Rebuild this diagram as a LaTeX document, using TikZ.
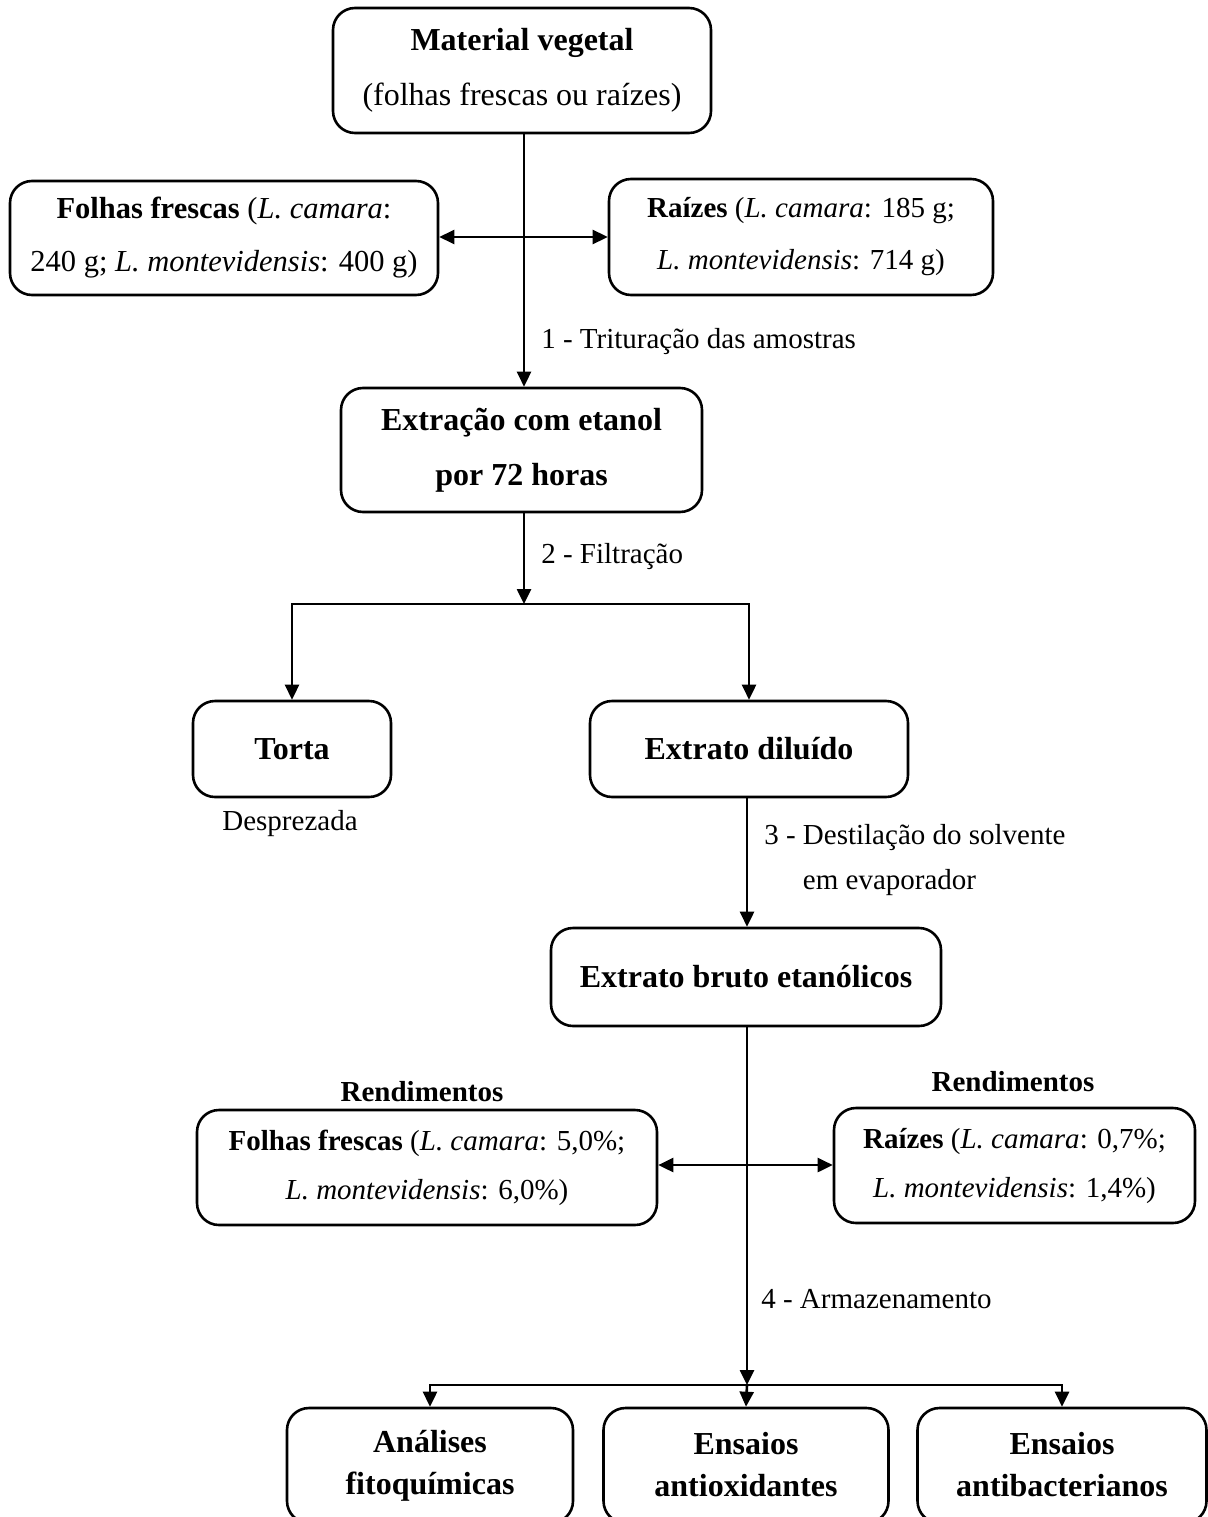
\documentclass[tikz,border=0pt]{standalone}
\usepackage{fontspec}
\setmainfont{Liberation Serif}
\usetikzlibrary{arrows.meta}
\begin{document}
\begin{tikzpicture}[x=1pt,y=-1pt,
  line width=2.6pt,
  box/.style={draw, rounded corners=22pt, inner sep=0pt, align=center},
  big/.style={font=\fontsize{32}{55}\selectfont},
  small/.style={font=\fontsize{29}{52}\selectfont},
  lbl/.style={font=\fontsize{29}{45}\selectfont, inner sep=0pt, align=left},
  arr/.style={-{Triangle[length=15pt,width=14pt]}},
  darr/.style={{Triangle[length=15pt,width=14pt]}-{Triangle[length=15pt,width=14pt]}}]
\useasboundingbox (0,0) rectangle (1207,1517);
% boxes
\node[box,big,minimum width=378pt,minimum height=125pt] (mat) at (522,70.5)
  {\textbf{Material vegetal}\\(folhas frescas ou raízes)};
\node[box,font=\fontsize{30.5}{53}\selectfont,minimum width=428pt,minimum height=114pt] (folhas) at (224,238)
  {\textbf{Folhas frescas} (\textit{L. camara}:\\240 g; \textit{L. montevidensis}: 400 g)};
\node[box,small,minimum width=384pt,minimum height=116pt] (raizes) at (801,237)
  {\textbf{Raízes} (\textit{L. camara}: 185 g;\\\textit{L. montevidensis}: 714 g)};
\node[box,big,minimum width=361pt,minimum height=124pt] (extr) at (521.5,450)
  {\textbf{Extração com etanol}\\\textbf{por 72 horas}};
\node[box,big,minimum width=198pt,minimum height=96pt] (torta) at (292,749)
  {\textbf{Torta}};
\node[box,big,minimum width=318pt,minimum height=96pt] (dil) at (749,749)
  {\textbf{Extrato diluído}};
\node[box,big,minimum width=390pt,minimum height=98pt] (bruto) at (746,977)
  {\textbf{Extrato bruto etanólicos}};
\node[box,small,minimum width=460pt,minimum height=115pt,font=\fontsize{29}{49}\selectfont] (rf) at (427,1167.5)
  {\textbf{Folhas frescas} (\textit{L. camara}: 5,0\%;\\\textit{L. montevidensis}: 6,0\%)};
\node[box,small,minimum width=361pt,minimum height=115pt,font=\fontsize{29}{49}\selectfont] (rr) at (1014.5,1165.5)
  {\textbf{Raízes} (\textit{L. camara}: 0,7\%;\\\textit{L. montevidensis}: 1,4\%)};
\node[box,font=\fontsize{32}{42}\selectfont,minimum width=286pt,minimum height=115pt] (a1) at (430,1465.5)
  {\textbf{Análises}\\\textbf{fitoquímicas}};
\node[box,font=\fontsize{32}{42}\selectfont,minimum width=285pt,minimum height=115pt] (a2) at (746,1465.5)
  {\textbf{\vphantom{Á}Ensaios}\\\textbf{antioxidantes\vphantom{q}}};
\node[box,font=\fontsize{32}{42}\selectfont,minimum width=289pt,minimum height=115pt] (a3) at (1062,1465.5)
  {\textbf{\vphantom{Á}Ensaios}\\\textbf{antibacterianos\vphantom{q}}};
% free labels
\node[lbl,anchor=west] (l1) at (540,342) {1 - Trituração das amostras};
\node[lbl,anchor=west] (l2) at (540,557) {2 - Filtração};
\node[lbl] (desp) at (290,824) {Desprezada};
\node[lbl,anchor=north west] (l3) at (763,823) {3 - Destilação do solvente\\\phantom{3 - }em evaporador};
\node[lbl,font=\bfseries\fontsize{29}{45}\selectfont] (rend1) at (422,1092) {Rendimentos};
\node[lbl,font=\bfseries\fontsize{29}{45}\selectfont] (rend2) at (1013,1082) {Rendimentos};
\node[lbl,anchor=west] (l4) at (760,1299) {4 - Armazenamento};
% junctions
\coordinate (tm) at (524,237);
\coordinate (j1) at (524,604);
\coordinate (bm) at (747,1165);
\coordinate (j2) at (747,1385);
% connectors
\draw[arr] (mat.south -| tm) -- (extr.north -| tm);
\draw[darr] (folhas.east |- tm) -- (raizes.west |- tm);
\draw[arr] (extr.south -| j1) -- (j1);
\draw[darr] (torta.north) -- (torta.north |- j1) -- (dil.north |- j1) -- (dil.north);
\draw[arr] (dil.south -| bm) -- (bruto.north -| bm);
\draw[arr] (bruto.south -| j2) -- (j2);
\draw[darr] (rf.east |- bm) -- (rr.west |- bm);
\draw[darr] (a1.north) -- (a1.north |- j2) -- (a3.north |- j2) -- (a3.north);
\draw[arr] (j2) -- (a2.north);
\end{tikzpicture}
\end{document}
